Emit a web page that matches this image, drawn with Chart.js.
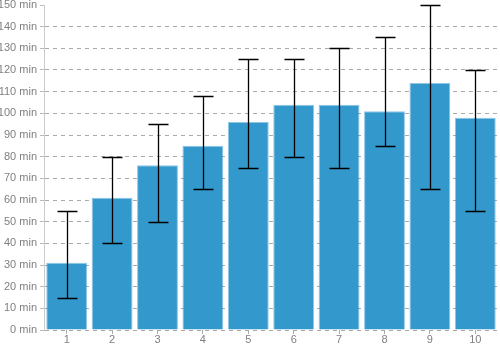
<!DOCTYPE html>
<html>
<head>
<meta charset="utf-8">
<script src="https://cdn.jsdelivr.net/npm/chart.js@4/dist/chart.umd.min.js"></script>
<style>
  html, body { margin: 0; padding: 0; background: #fff; }
  #wrap { width: 500px; height: 350px; position: relative; }
</style>
</head>
<body>
<div id="wrap"><canvas id="c"></canvas></div>
<script>
// Session durations per group, with low/high range shown as error bars
const categories = ['1', '2', '3', '4', '5', '6', '7', '8', '9', '10'];
const durations  = [31, 61, 76, 85, 96, 104, 104, 101, 114, 98];
const rangeLow   = [15, 40, 50, 65, 75, 80, 75, 85, 65, 55];
const rangeHigh  = [55, 80, 95, 108, 125, 125, 130, 135, 150, 120];
const yTicksMax  = 150;
const yTickStep  = 10;

// Draws a vertical whisker with caps from rangeLow to rangeHigh on each bar
const errorBars = {
  id: 'errorBars',
  afterDatasetsDraw(chart) {
    const meta = chart.getDatasetMeta(0);
    const yScale = chart.scales.y;
    const ctx = chart.ctx;
    ctx.save();
    ctx.strokeStyle = '#000';
    ctx.lineWidth = 1.3;
    meta.data.forEach((bar, i) => {
      const x = Math.round(bar.x) + 0.5;
      const yHi = Math.round(yScale.getPixelForValue(rangeHigh[i])) + 0.5;
      const yLo = Math.round(yScale.getPixelForValue(rangeLow[i])) + 0.5;
      const cap = 10;
      ctx.beginPath();
      ctx.moveTo(x, yHi); ctx.lineTo(x, yLo);
      ctx.moveTo(x - cap, yHi); ctx.lineTo(x + cap, yHi);
      ctx.moveTo(x - cap, yLo); ctx.lineTo(x + cap, yLo);
      ctx.stroke();
    });
    ctx.restore();
  }
};

Chart.defaults.font.family = '"Liberation Sans", Arial, Helvetica, sans-serif';
Chart.defaults.font.size = 11;
Chart.defaults.color = '#808080';

new Chart(document.getElementById('c'), {
  type: 'bar',
  data: {
    labels: categories,
    datasets: [{
      data: durations,
      backgroundColor: '#3398cc',
      borderColor: 'rgba(51,152,204,0.55)',
      borderWidth: 1,
      barPercentage: 0.9,
      categoryPercentage: 1.0
    }]
  },
  options: {
    responsive: true,
    maintainAspectRatio: false,
    animation: false,
    layout: { padding: { top: 0, right: 2, left: 0, bottom: 0 } },
    plugins: {
      legend: { display: false },
      tooltip: { enabled: false }
    },
    scales: {
      x: {
        offset: true,
        grid: {
          offset: false,
          drawOnChartArea: false,
          drawTicks: true,
          tickLength: 4,
          tickColor: '#aaa'
        },
        border: { display: false },
        ticks: { padding: -1, color: '#808080' },
        afterFit(scale) { scale.height = 20; }
      },
      y: {
        min: 0,
        max: yTicksMax,
        ticks: {
          stepSize: yTickStep,
          padding: 3,
          color: '#808080',
          callback: (v) => v + ' min'
        },
        grid: {
          color: (ctx) => (ctx.tick && ctx.tick.value === yTicksMax) ? 'rgba(0,0,0,0)' : '#aaa',
          tickColor: '#bbb',
          tickLength: 4,
          tickBorderDash: []
        },
        border: { display: true, color: '#ccc', dash: [4, 4] },
        afterFit(scale) {
          scale.width = 44;
          scale.paddingTop = 5;
          scale.paddingBottom = 0;
        }
      }
    }
  },
  plugins: [errorBars]
});
</script>
</body>
</html>
